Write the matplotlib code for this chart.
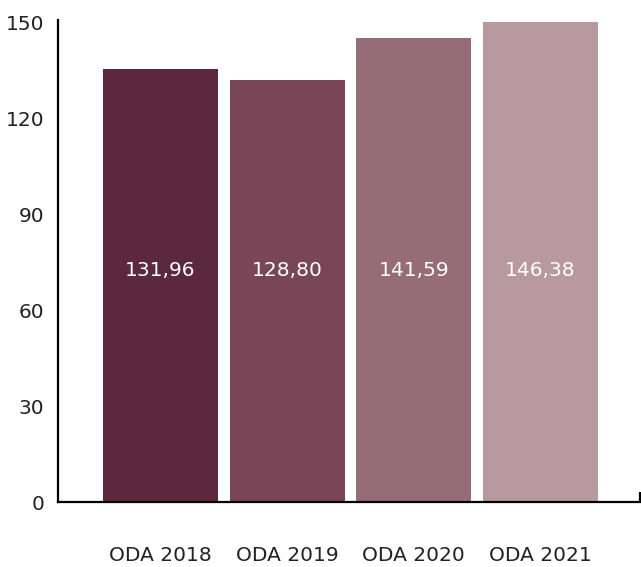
"""ODA bar chart with value labels inside the bars."""

import matplotlib

matplotlib.use("Agg")
import matplotlib.pyplot as plt
import numpy as np

categories = ["ODA 2018", "ODA 2019", "ODA 2020", "ODA 2021"]
values = [131.96, 128.80, 141.59, 146.38]
value_labels = ["131,96", "128,80", "141,59", "146,38"]
axis_ticks = [0, 30, 60, 90, 120, 150]
colors = ["#5c283e", "#784656", "#966c76", "#b89a9e"]

plt.rcParams["font.family"] = ["DejaVu Sans"]
FS = 14.5

fig = plt.figure(figsize=(6.41, 5.67), dpi=100)
ax = fig.add_axes([58 / 641, 1 - 502 / 567, 582 / 641, 482 / 567])

x = np.arange(len(categories))
vmax = max(values)
ax.bar(x, values, width=0.908, color=colors)
ax.set_xlim(-0.809, 3.785)
ax.set_ylim(0, vmax * 1.0045)

for xi, lab in zip(x, value_labels):
    ax.text(xi, vmax * 0.482, lab, ha="center", va="center", color="white", fontsize=FS)

# the tick axis runs 0-150 over the same height the bars use for 0-max
sec = ax.secondary_yaxis(
    "left", functions=(lambda v: v * 150 / vmax, lambda t: t * vmax / 150)
)
sec.set_yticks(axis_ticks)
sec.tick_params(length=0, pad=10, labelsize=FS, labelcolor="#222222")
sec.spines["left"].set_linewidth(1.6)
ax.spines["left"].set_visible(False)
ax.set_yticks([])

ax.set_xticks(x, categories)
ax.tick_params(axis="x", length=0, pad=32, labelsize=FS, labelcolor="#222222")
ax.set_xticks([3.785], minor=True)
ax.tick_params(axis="x", which="minor", direction="in", length=7, width=1.6)
ax.spines["bottom"].set_linewidth(1.6)
ax.spines["top"].set_visible(False)
ax.spines["right"].set_visible(False)

fig.savefig("out.png", dpi=100)
